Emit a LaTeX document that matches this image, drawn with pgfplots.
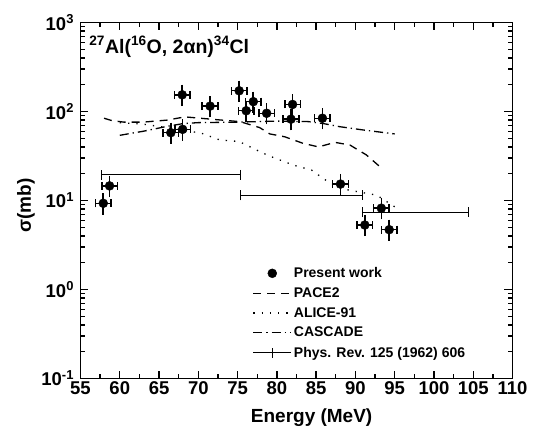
\documentclass[border=0pt]{standalone}
\usepackage{pgfplots}
\pgfplotsset{compat=1.18}
\usepackage{fontspec}
\setmainfont{Liberation Sans}
\pgfplotsset{
  myline legend/.style={legend image code/.code={\draw[##1] (0pt,0pt) -- (38pt,0pt);}},
  myref legend/.style={legend image code/.code={\draw[black, line width=1.2pt] (0pt,0pt) -- (38pt,0pt); \draw[black, line width=1.2pt] (19pt,-5pt) -- (19pt,5pt);}},
  mydot legend/.style={legend image code/.code={\fill[black] (19pt,0pt) circle (4.5pt);}},
}
\pgfplotstableread{
E     s
57.9  9.3
58.7  14.6
66.5  57.8
68.0  63
67.95 154
71.5  115
75.2  171
76.1  102
77.0  129
78.7  95.5
82.0  120
81.8  82
85.8  84
88.1  15.3
93.3  8.2
91.2  5.3
94.3  4.7
}\present
\begin{document}
\begin{tikzpicture}
\begin{axis}[name=ax,
 width=432pt, height=356pt, scale only axis,
 xmin=55, xmax=110, ymode=log, ymin=0.1, ymax=1000,
 xtick={55,60,...,110}, minor x tick num=1,
 ytick={0.1,1,10,100,1000},
 yticklabels={10\textsuperscript{-1},10\textsuperscript{0},10\textsuperscript{1},10\textsuperscript{2},10\textsuperscript{3}},
 /pgf/number format/assume math mode=true,
 ticklabel style={font=\bfseries\fontsize{18.5}{18.5}\selectfont},
 yticklabel style={xshift=-3pt},
 axis line style={line width=1.8pt},
 major tick length=8pt, minor tick length=4.5pt,
 every tick/.style={black, line width=1.4pt},
 tick align=inside,
 xlabel={Energy (MeV)}, ylabel={σ(mb)},
 label style={font=\bfseries\fontsize{19}{19}\selectfont},
 xlabel style={at={(rel axis cs:0.535,-0.125)}, anchor=base},
 ylabel style={at={(rel axis cs:-0.126,0.486)}, anchor=center},
 legend style={draw=none, fill=none, at={(0.398,0.318)}, anchor=north west,
   font=\bfseries\fontsize{14}{14}\selectfont, row sep=4.5pt, cells={anchor=west}, inner sep=0pt},
]
\coordinate (O) at (rel axis cs:0,0);
% Present work (y error bars and marks)
\addplot[black, only marks, mark=*, mark size=4.5pt, mydot legend,
  error bars/.cd, y dir=both, y fixed relative=0.17,
  error bar style={line width=1.4pt, black, solid},
  error mark options={black, line width=1.6pt, mark size=4pt, solid}]
  table[x=E, y=s] {\present};
\addlegendentry{Present work}
% Present work (x error bars)
\addplot[forget plot, draw=none, mark=none,
  error bars/.cd, x dir=both, x fixed=1,
  error bar style={line width=1.4pt, draw=black, solid},
  error mark options={draw=black, line width=1.6pt, mark size=4pt, solid, rotate=90}]
  table[x=E, y=s] {\present};
% PACE2
\addplot[black, line width=1.3pt, dash pattern=on 8pt off 6pt, myline legend]
  coordinates {
  (58,84) (59,79) (60.5,76) (63,76) (66,80) (68.3,87) (72.3,81) (75.3,77)
  (77.8,66) (79.1,56) (81,52) (83.3,44) (85.3,40) (87.4,45) (89.3,42)
  (91.4,32.5) (93.5,22.4)};
\addlegendentry{PACE2}
% ALICE-91
\addplot[black, line width=1.3pt, dash pattern=on 1.3pt off 7pt, myline legend]
  coordinates {
  (60,75) (63,72) (66,66) (68,62) (70.4,57) (72.7,48) (75.2,46) (77.4,37)
  (78.9,32) (82.1,25) (84.4,22) (85.6,18.5) (86.7,15.8) (89.1,13.1)
  (90.2,12.6) (91.5,12) (92.7,11.5) (94,9.7) (95,8.5)};
\addlegendentry{ALICE-91}
% CASCADE
\addplot[black, line width=1.3pt, dash pattern=on 9pt off 4pt on 1.3pt off 4pt, myline legend]
  coordinates {
  (60,54) (63,60) (66,68) (68,73) (70,75) (75,76) (80,78) (84,77) (86,73)
  (88,67.5) (91,62) (95,56)};
\addlegendentry{CASCADE}
% Phys. Rev. 125 (1962) 606
\addplot[draw=none, mark=none, myref legend,
  error bars/.cd, x dir=both, x explicit,
  error bar style={line width=1.2pt, draw=black, solid},
  error mark options={draw=black, line width=1.2pt, mark size=5pt, solid, rotate=90}]
  coordinates {
  (66.55,19.4) +- (8.85,0)
  (83.15,11.4) +- (7.75,0)
  (97.65,7.4) +- (6.75,0)};
\addlegendentry{Phys. Rev. 125 (1962) 606}
\node[anchor=base west, inner sep=0pt, font=\bfseries\fontsize{19.5}{19.5}\selectfont]
  at (rel axis cs:0.02,0.913) {\textsuperscript{27}Al(\textsuperscript{16}O, 2αn)\textsuperscript{34}Cl};
\end{axis}
\pgfresetboundingbox
\path[use as bounding box] ([shift={(-80.5pt,-52.5pt)}]O) rectangle ++(539pt,431pt);
\end{tikzpicture}
\end{document}
